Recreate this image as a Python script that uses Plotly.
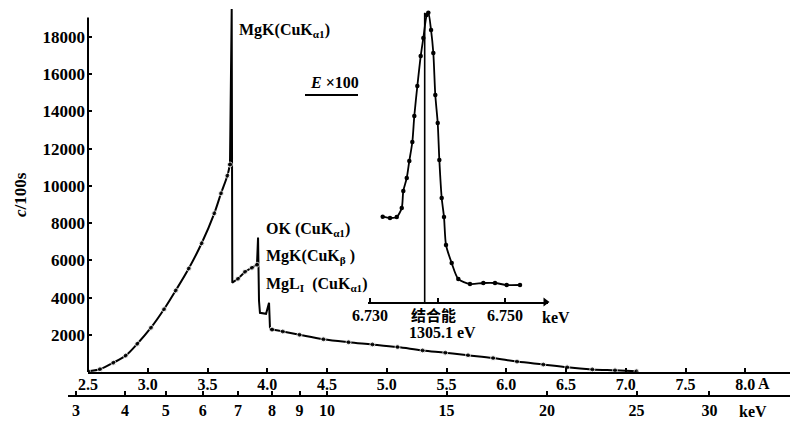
import plotly.graph_objects as go

# ---------------- data ----------------
# main spectrum: wavelength (A) vs counts per 100 s
wavelength = [2.50, 2.60, 2.712, 2.815, 2.913, 3.027, 3.136, 3.234, 3.343, 3.451, 3.557, 3.613, 3.666, 3.688,
              3.7025, 3.7075, 3.755, 3.814, 3.872, 3.914, 3.923, 3.931, 3.939, 3.99, 4.015, 4.023,
              4.04, 4.13, 4.27, 4.47, 4.68, 4.88, 5.09, 5.30, 5.49, 5.68, 5.89, 6.09, 6.31, 6.51,
              6.72, 6.91, 7.09]
counts = [40, 150, 500, 880, 1520, 2380, 3369, 4380, 5560, 6916, 8527, 9600, 10550, 11150,
          19500, 4800, 5011, 5388, 5603, 5765, 7220, 3825, 3179, 3125, 3718, 2317,
          2280, 2177, 2000, 1760, 1600, 1480, 1340, 1160, 1040, 900, 749, 560, 400, 250,
          140, 90, 40]
is_measured = [1, 1, 1, 1, 1, 1, 1, 1, 1, 1, 1, 1, 1, 1,
               0, 0, 1, 1, 1, 1, 0, 0, 0, 0, 0, 0,
               1, 1, 1, 1, 1, 1, 1, 1, 1, 1, 1, 1, 1, 1,
               1, 1, 1]

# inset: energy (keV, x100 expanded) vs counts
inset_energy = [6.73188, 6.73296, 6.73396, 6.73470, 6.73493, 6.73544, 6.73582, 6.73627, 6.73656,
                6.73701, 6.73751, 6.73790, 6.73840, 6.73864, 6.73904, 6.73938, 6.73967, 6.74003,
                6.74027, 6.74062, 6.74096, 6.74126, 6.74210, 6.74308, 6.74481, 6.74679, 6.74852,
                6.75025, 6.75222]
inset_counts = [4598, 4528, 4582, 5067, 5983, 6684, 7600, 8624, 10025,
                11642, 13259, 14230, 15469, 15593, 14661, 13421, 11157, 9648,
                7654, 5606, 4582, 3072, 2102, 1240, 970, 1024, 1024,
                916, 916]
binding_energy_pos = 6.7381

# axis labels
x_ticks = [2.5, 3.0, 3.5, 4.0, 4.5, 5.0, 5.5, 6.0, 6.5, 7.0, 7.5, 8.0]
x_ticktext = ["2.5", "3.0", "3.5", "4.0", "4.5", "5.0", "5.5", "6.0", "6.5", "7.0", "7.5", "8.0"]
y_ticks = [2000, 4000, 6000, 8000, 10000, 12000, 14000, 16000, 18000]
y_ticktext = ["2000", "4000", "6000", "8000", "10000", "12000", "14000", "16000", "18000"]
kev_labels = ["3", "4", "5", "6", "7", "8", "9", "10", "15", "20", "25", "30"]
kev_pos_A = [2.40, 2.81, 3.15, 3.46, 3.755, 4.04, 4.27, 4.50, 5.50, 6.34, 7.09, 7.70]
inset_ticks = [6.730, 6.740, 6.750]
inset_ticktext = ["6.730", "", "6.750"]

# ---------------- figure ----------------
W, H = 797, 423
def fx(p):
    return p / W
def fy(p):
    return 1 - p / H

SERIF = "Liberation Serif"
tickfont = dict(family=SERIF, size=16, color="black", weight="bold")

fig = go.Figure()

RISE_END = 14   # smooth rising branch
EDGE_END = 26   # absorption-edge / line region (straight segments)
segments = [(0, RISE_END, "spline"), (RISE_END - 1, EDGE_END + 1, "linear"), (EDGE_END, len(wavelength), "spline")]
for a, b, shape in segments:
    fig.add_trace(go.Scatter(
        x=wavelength[a:b], y=counts[a:b], mode="lines+markers",
        line=dict(color="black", width=2, shape=shape, smoothing=1.0),
        marker=dict(color="black", size=[5 if m else 0 for m in is_measured[a:b]]),
        xaxis="x", yaxis="y", hoverinfo="skip", showlegend=False))

# dummy for keV axis
fig.add_trace(go.Scatter(x=[kev_pos_A[0]], y=[None], mode="markers",
                         xaxis="x2", yaxis="y", showlegend=False, hoverinfo="skip"))

# inset
fig.add_trace(go.Scatter(
    x=inset_energy, y=inset_counts, mode="lines+markers",
    line=dict(color="black", width=1.8, shape="spline", smoothing=0.7),
    marker=dict(color="black", size=4.5),
    xaxis="x3", yaxis="y3", hoverinfo="skip", showlegend=False))
fig.add_trace(go.Scatter(
    x=[binding_energy_pos, binding_energy_pos], y=[0, max(inset_counts)], mode="lines",
    line=dict(color="black", width=1.6),
    xaxis="x3", yaxis="y3", hoverinfo="skip", showlegend=False))
fig.add_trace(go.Scatter(
    x=[6.7560], y=[0], mode="markers",
    marker=dict(symbol="triangle-right", size=8, color="black"),
    xaxis="x3", yaxis="y3", hoverinfo="skip", showlegend=False, cliponaxis=False))

x_lo, x_hi = 2.5, 2.5 + 702 / 119.5
y_hi = (372 - 7) / 18.61 * 1000

common = dict(showgrid=False, zeroline=False, automargin=False)

fig.update_layout(
    template="none",
    width=W, height=H,
    margin=dict(l=0, r=0, t=0, b=0, pad=0, autoexpand=False),
    paper_bgcolor="white", plot_bgcolor="rgba(0,0,0,0)",
    xaxis=dict(domain=[fx(88), fx(790)], range=[x_lo, x_hi], anchor="y",
               showline=True, linecolor="black", linewidth=2, **common,
               tickmode="array", tickvals=x_ticks, ticktext=x_ticktext,
               ticks="inside", ticklen=4, tickwidth=1.5, tickcolor="black",
               tickfont=tickfont, ticklabelstandoff=-3),
    yaxis=dict(domain=[fy(372), fy(7)], range=[0, y_hi], anchor="x",
               showline=False, **common,
               tickmode="array", tickvals=y_ticks, ticktext=y_ticktext,
               ticks="inside", ticklen=4, tickwidth=1.5, tickcolor="black",
               tickfont=dict(family=SERIF, size=17, color="black", weight="bold"),
               ticklabelstandoff=2),
    xaxis2=dict(domain=[fx(68), fx(790)], range=[2.5 - 20 / 119.5, x_hi], anchor="free",
                position=fy(396), showline=True, linecolor="black", linewidth=2, **common,
                tickmode="array", tickvals=kev_pos_A, ticktext=kev_labels,
                ticks="inside", ticklen=4, tickwidth=1.5, tickcolor="black",
                tickfont=tickfont, ticklabelstandoff=0),
    xaxis3=dict(domain=[fx(368), fx(548)], range=[6.72970, 6.75637], anchor="y3",
                showline=True, linecolor="black", linewidth=2, **common,
                tickmode="array", tickvals=inset_ticks, ticktext=inset_ticktext,
                ticks="inside", ticklen=4, tickwidth=1.5, tickcolor="black",
                tickfont=tickfont, ticklabelstandoff=-2),
    yaxis3=dict(domain=[fy(302), fy(5)], range=[0, 297 * 53.9], anchor="x3",
                visible=False, **common),
)

# y axis line (ends at ~19000)
fig.add_shape(type="line", xref="paper", yref="y", x0=fx(88), x1=fx(88), y0=0, y1=19050,
              line=dict(color="black", width=2))
# underline of E x100
fig.add_shape(type="line", xref="paper", yref="paper", x0=fx(305), x1=fx(358), y0=fy(95), y1=fy(95),
              line=dict(color="black", width=2))

afont = dict(family=SERIF, size=16, color="black", weight="bold")
def ann(text, x, y, xanchor="left", font=afont, **kw):
    fig.add_annotation(text=text, x=fx(x), y=fy(y), xref="paper", yref="paper",
                       xanchor=xanchor, yanchor="middle", showarrow=False, font=font, **kw)

ann("MgK(CuK<sub>α1</sub>)", 237, 31)
ann("OK (CuK<sub>α1</sub>)", 264, 229)
ann("MgK(CuK<sub>β</sub> )", 264, 256)
ann("MgL<sub>I</sub>  (CuK<sub>α1</sub>)", 264, 284)
ann("<i>E</i> ×100", 334, 82, xanchor="center")
ann("结合能", 433, 314, xanchor="center",
    font=dict(family="Noto Sans CJK SC", size=15, color="black", weight="bold"))
ann("1305.1 eV", 442, 332, xanchor="center")
ann("keV", 540, 317)
ann("A", 756, 383)
ann("keV", 737, 411)
ann("<i>c</i>/100s", 20, 195, xanchor="center", textangle=-90,
    font=dict(family=SERIF, size=17, color="black", weight="bold"))

fig.write_html("out.html")
